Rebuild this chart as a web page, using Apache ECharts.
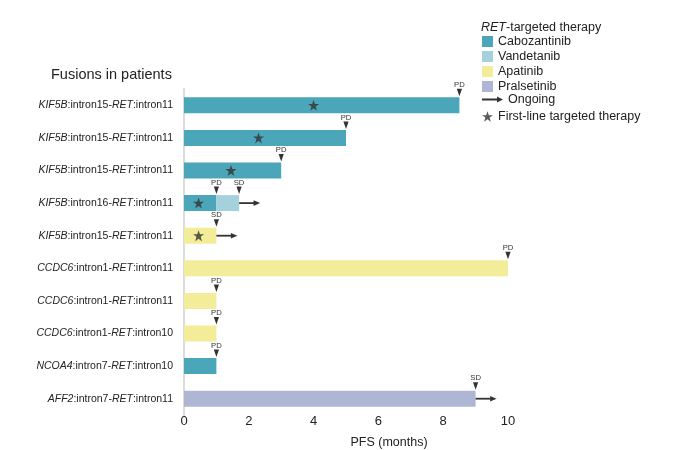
<!DOCTYPE html>
<html>
<head>
<meta charset="utf-8">
<script src="https://cdn.jsdelivr.net/npm/echarts@6/dist/echarts.min.js"></script>
<style>
  html, body { margin: 0; padding: 0; background: #fff; }
  #chart { width: 675px; height: 450px; }
</style>
</head>
<body>
<div id="chart"></div>
<script>
// Fusion of each patient, top to bottom
const categories = [
  'KIF5B:intron15-RET:intron11',
  'KIF5B:intron15-RET:intron11',
  'KIF5B:intron15-RET:intron11',
  'KIF5B:intron16-RET:intron11',
  'KIF5B:intron15-RET:intron11',
  'CCDC6:intron1-RET:intron11',
  'CCDC6:intron1-RET:intron11',
  'CCDC6:intron1-RET:intron10',
  'NCOA4:intron7-RET:intron10',
  'AFF2:intron7-RET:intron11'
];

// PFS (months) spent on each drug, stacked in treatment order
const cabozantinib = [8.5, 5, 3, 1, '-', '-', '-', '-', 1, '-'];
const vandetanib   = ['-', '-', '-', 0.7, '-', '-', '-', '-', '-', '-'];
const apatinib     = ['-', '-', '-', '-', 1, 10, 1, 1, '-', '-'];
const pralsetinib  = ['-', '-', '-', '-', '-', '-', '-', '-', '-', 9];

// Response assessments: month, patient row, label
const statusMonth = [8.5, 5, 3, 1, 1.7, 1, 10, 1, 1, 1, 9];
const statusRow   = [0, 1, 2, 3, 3, 4, 5, 6, 7, 8, 9];
const statusText  = ['PD', 'PD', 'PD', 'PD', 'SD', 'SD', 'PD', 'PD', 'PD', 'PD', 'SD'];

// Treatment still ongoing: month where the arrow starts, patient row
const ongoingMonth = [1.7, 1, 9];
const ongoingRow   = [3, 4, 9];

// First-line targeted therapy: month, patient row
const firstLineMonth = [4, 2.3, 1.45, 0.45, 0.45];
const firstLineRow   = [0, 1, 2, 3, 4];

// x-axis ticks
const xTicks = [0, 2, 4, 6, 8, 10];

const COLORS = {
  Cabozantinib: '#4ba6ba',
  Vandetanib: '#a5d1dd',
  Apatinib: '#f3ec99',
  Pralsetinib: '#aeb6d4'
};
const DARK = '#333333';
const FONT = '"Liberation Sans", Arial, Helvetica, sans-serif';

const STAR = 'path://M50,2 L62,37 L99,37 L69,59 L80,96 L50,74 L20,96 L31,59 L1,37 L38,37 Z';
const ARROW = 'path://M0,2.1 L15,2.1 L15,0 L21,3 L15,6 L15,3.9 L0,3.9 Z';

function fusionLabel(value, index) {
  const s = categories[index];
  const halves = s.split('-RET:');
  const left = halves[0].split(':');
  return '{i|' + left[0] + '}:' + left[1] + '-{i|RET}:' + halves[1];
}

function barSeries(name, data) {
  return {
    name: name,
    type: 'bar',
    stack: 'pfs',
    barWidth: 16,
    data: data,
    itemStyle: { color: COLORS[name] },
    emphasis: { disabled: true }
  };
}

const chart = echarts.init(document.getElementById('chart'), null, { renderer: 'canvas' });

chart.setOption({
  animation: false,
  textStyle: { fontFamily: FONT },
  title: {
    text: 'Fusions in patients',
    left: 51,
    top: 67,
    padding: 0,
    textStyle: { fontSize: 14.5, fontWeight: 'normal', color: '#222', fontFamily: FONT }
  },
  legend: [
    {
      data: ['Cabozantinib', 'Vandetanib', 'Apatinib', 'Pralsetinib'],
      orient: 'vertical',
      left: 482,
      top: 35,
      padding: 0,
      itemWidth: 11,
      itemHeight: 11,
      itemGap: 2,
      icon: 'rect',
      selectedMode: false,
      textStyle: { fontSize: 12.5, color: '#222', fontFamily: FONT }
    },
    {
      data: [{ name: 'Ongoing', icon: ARROW }],
      orient: 'vertical',
      left: 482,
      top: 93,
      padding: 0,
      itemWidth: 21,
      itemHeight: 6,
      selectedMode: false,
      textStyle: { fontSize: 12.5, color: '#222', fontFamily: FONT }
    },
    {
      data: [{ name: 'First-line targeted therapy', icon: STAR }],
      orient: 'vertical',
      left: 482,
      top: 110,
      padding: 0,
      itemWidth: 11,
      itemHeight: 11,
      selectedMode: false,
      textStyle: { fontSize: 12.5, color: '#222', fontFamily: FONT }
    }
  ],
  graphic: [
    {
      type: 'text',
      left: 481,
      top: 21,
      style: {
        text: '{i|RET}-targeted therapy',
        fontSize: 12.5,
        fontFamily: FONT,
        fill: '#222',
        rich: { i: { fontStyle: 'italic', fontSize: 12.5, fontFamily: FONT, color: '#222' } }
      }
    }
  ],
  grid: { left: 184, right: 167, top: 89, height: 326, containLabel: false, outerBoundsMode: 'none' },
  xAxis: {
    type: 'value',
    min: 0,
    max: 10,
    interval: 2,
    axisLine: { show: false },
    axisTick: { show: false },
    splitLine: { show: false },
    axisLabel: {
      fontSize: 13,
      color: '#222',
      margin: 0,
      formatter: function (v) { return xTicks.indexOf(v) >= 0 ? String(v) : ''; }
    },
    name: 'PFS (months)',
    nameLocation: 'middle',
    nameGap: 21,
    nameTextStyle: { fontSize: 12.5, color: '#222', padding: [0, 0, 0, 86] }
  },
  yAxis: {
    type: 'category',
    data: categories,
    inverse: true,
    axisLine: { show: true, lineStyle: { color: '#dcdcdc', width: 2 } },
    axisTick: { show: false },
    splitLine: { show: false },
    axisLabel: {
      fontSize: 10.5,
      color: '#222',
      margin: 11,
      formatter: fusionLabel,
      rich: { i: { fontStyle: 'italic', fontSize: 10.5, color: '#222', fontFamily: FONT } }
    }
  },
  series: [
    barSeries('Cabozantinib', cabozantinib),
    barSeries('Vandetanib', vandetanib),
    barSeries('Apatinib', apatinib),
    barSeries('Pralsetinib', pralsetinib),
    {
      name: 'Status',
      type: 'custom',
      z: 4,
      data: statusMonth.map(function (m, i) { return [m, statusRow[i]]; }),
      renderItem: function (params, api) {
        const p = api.coord([api.value(0), api.value(1)]);
        const x = p[0], y = p[1];
        return {
          type: 'group',
          children: [
            {
              type: 'polygon',
              shape: { points: [[x - 2.6, y - 16.5], [x + 2.6, y - 16.5], [x, y - 9]] },
              style: { fill: DARK }
            },
            {
              type: 'text',
              style: {
                text: statusText[params.dataIndex],
                x: x,
                y: y - 20.5,
                align: 'center',
                verticalAlign: 'middle',
                fontSize: 7.7,
                fontFamily: FONT,
                fill: DARK
              }
            }
          ]
        };
      }
    },
    {
      name: 'Ongoing',
      type: 'custom',
      z: 4,
      itemStyle: { color: DARK },
      data: ongoingMonth.map(function (m, i) { return [m, ongoingRow[i]]; }),
      renderItem: function (params, api) {
        const p = api.coord([api.value(0), api.value(1)]);
        const x = p[0], y = p[1];
        return {
          type: 'group',
          children: [
            {
              type: 'line',
              shape: { x1: x, y1: y, x2: x + 15, y2: y },
              style: { stroke: DARK, lineWidth: 1.8 }
            },
            {
              type: 'polygon',
              shape: { points: [[x + 14.5, y - 2.8], [x + 21, y], [x + 14.5, y + 2.8]] },
              style: { fill: DARK }
            }
          ]
        };
      }
    },
    {
      name: 'First-line targeted therapy',
      type: 'scatter',
      z: 5,
      symbol: STAR,
      symbolSize: 11,
      itemStyle: { color: DARK },
      emphasis: { disabled: true },
      data: firstLineMonth.map(function (m, i) { return [m, firstLineRow[i]]; })
    }
  ]
});
</script>
</body>
</html>
